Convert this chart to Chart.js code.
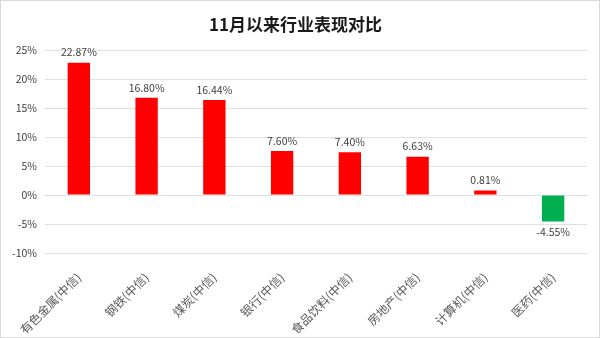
<!DOCTYPE html>
<html><head><meta charset="utf-8">
<script src="https://cdn.jsdelivr.net/npm/chart.js@4"></script>
<style>
html,body{margin:0;padding:0;background:#fff;}
#wrap{width:598px;height:336px;border:1px solid #d9d9d9;position:relative;}
canvas{display:block;}
</style></head><body>
<div id="wrap"><canvas id="c" width="598" height="336"></canvas></div>
<script>
const categories = ["有色金属(中信)","钢铁(中信)","煤炭(中信)","银行(中信)","食品饮料(中信)","房地产(中信)","计算机(中信)","医药(中信)"];
const values = [22.87, 16.80, 16.44, 7.60, 7.40, 6.63, 0.81, -4.55];
const yTicks = [25, 20, 15, 10, 5, 0, -5, -10];
const titleText = "11月以来行业表现对比";

const FONT = "'Noto Sans CJK SC','Microsoft YaHei',sans-serif";
const labelPlugin = {
  id: 'vlabels',
  afterDatasetsDraw(chart) {
    const ctx = chart.ctx;
    const meta = chart.getDatasetMeta(0);
    ctx.save();
    ctx.font = "10.5px " + FONT;
    ctx.fillStyle = "#404040";
    ctx.textAlign = "center";
    meta.data.forEach((bar, i) => {
      const v = values[i];
      const txt = v.toFixed(2) + "%";
      if (v >= 0) {
        ctx.textBaseline = "bottom";
        ctx.fillText(txt, bar.x, bar.y - 5);
      } else {
        ctx.textBaseline = "top";
        ctx.fillText(txt, bar.x, bar.y + 5);
      }
    });
    ctx.restore();
  }
};

new Chart(document.getElementById('c'), {
  type: 'bar',
  data: {
    labels: categories,
    datasets: [{
      data: values,
      backgroundColor: values.map(v => v >= 0 ? '#FF0000' : '#00B050'),
      categoryPercentage: 1.0,
      barPercentage: 0.33
    }]
  },
  options: {
    responsive: false,
    animation: false,
    layout: { padding: { left: 3, right: 12, top: 9, bottom: 4 } },
    plugins: {
      legend: { display: false },
      tooltip: { enabled: false },
      title: {
        display: true,
        text: titleText,
        color: '#1a1a1a',
        font: { family: FONT, size: 17, weight: 'bold' },
        padding: { top: 4, bottom: 16 }
      }
    },
    scales: {
      x: {
        grid: { display: false },
        border: { display: false },
        afterFit(axis) { axis.height = 80; },
        ticks: {
          color: '#595959',
          font: { family: FONT, size: 12 },
          maxRotation: 45, minRotation: 45,
          autoSkip: false,
          padding: 9
        }
      },
      y: {
        min: -10, max: 25,
        afterBuildTicks(axis) { axis.ticks = yTicks.map(v => ({ value: v })); },
        grid: { color: '#e0e0e0', drawTicks: false, lineWidth: 1 },
        border: { display: false },
        ticks: {
          color: '#404040',
          font: { family: FONT, size: 10.5 },
          padding: 8,
          callback: v => v + '%'
        }
      }
    }
  },
  plugins: [labelPlugin]
});
</script>
</body></html>
